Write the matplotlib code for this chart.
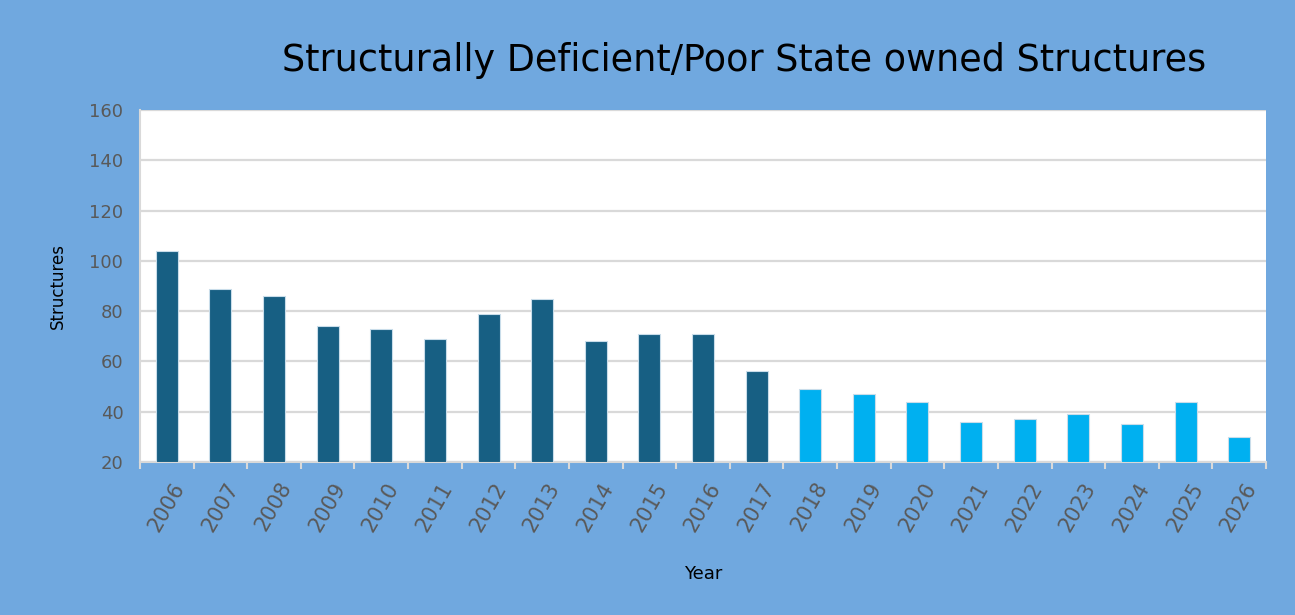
import matplotlib.pyplot as plt
import numpy as np

# Data
years = [str(y) for y in range(2006, 2027)]
structures = [104, 89, 86, 74, 73, 69, 79, 85, 68, 71, 71, 56,
              49, 47, 44, 36, 37, 39, 35, 44, 30]
# 2006-2017 actual, 2018-2026 projected
actual_count = 12

dark = "#175F83"
light = "#00B0F0"
bg = "#70A8DF"

colors = [dark] * actual_count + [light] * (len(years) - actual_count)

fig = plt.figure(figsize=(12.95, 6.15), dpi=100)
fig.patch.set_facecolor(bg)
ax = fig.add_axes([0.1081, 0.2488, 0.8695, 0.5723])
ax.set_facecolor("white")

x = np.arange(len(years))
ax.bar(x, np.array(structures) - 20, bottom=20, width=0.41, color=colors,
       edgecolor="#C9DDEA", linewidth=0.8, zorder=3)

ax.set_ylim(20, 160)
ax.set_xlim(-0.5, len(years) - 0.5)
ax.set_yticks(range(20, 161, 20))
ax.yaxis.grid(True, color="#D9D9D9", linewidth=1.6, zorder=0)
ax.tick_params(axis="y", length=0, labelsize=13, labelcolor="#595959", pad=12)

# labels at centers, tick marks at category boundaries
ax.set_xticks(x + 0.08)
ax.set_xticklabels(years, rotation=60, ha="right", rotation_mode="anchor",
                   fontsize=15, color="#595959")
ax.tick_params(axis="x", length=0, pad=12)
ax.set_xticks(np.arange(-0.5, len(years), 1), minor=True)
ax.tick_params(axis="x", which="minor", length=5, width=1.5, color="#D9D9D9")

for s in ["top", "right"]:
    ax.spines[s].set_visible(False)
ax.spines["left"].set_color("#D9D9D9")
ax.spines["left"].set_linewidth(1.5)
ax.spines["bottom"].set_color("#D9D9D9")
ax.spines["bottom"].set_linewidth(1.5)

ax.set_ylabel("Structures", fontsize=12, color="black", labelpad=16)
ax.set_xlabel("Year", fontsize=13, color="black", labelpad=22)

fig.text(0.5745, 0.902, "Structurally Deficient/Poor State owned Structures",
         ha="center", va="center", fontsize=26.3, color="black")

plt.savefig("out.png", facecolor=bg)
